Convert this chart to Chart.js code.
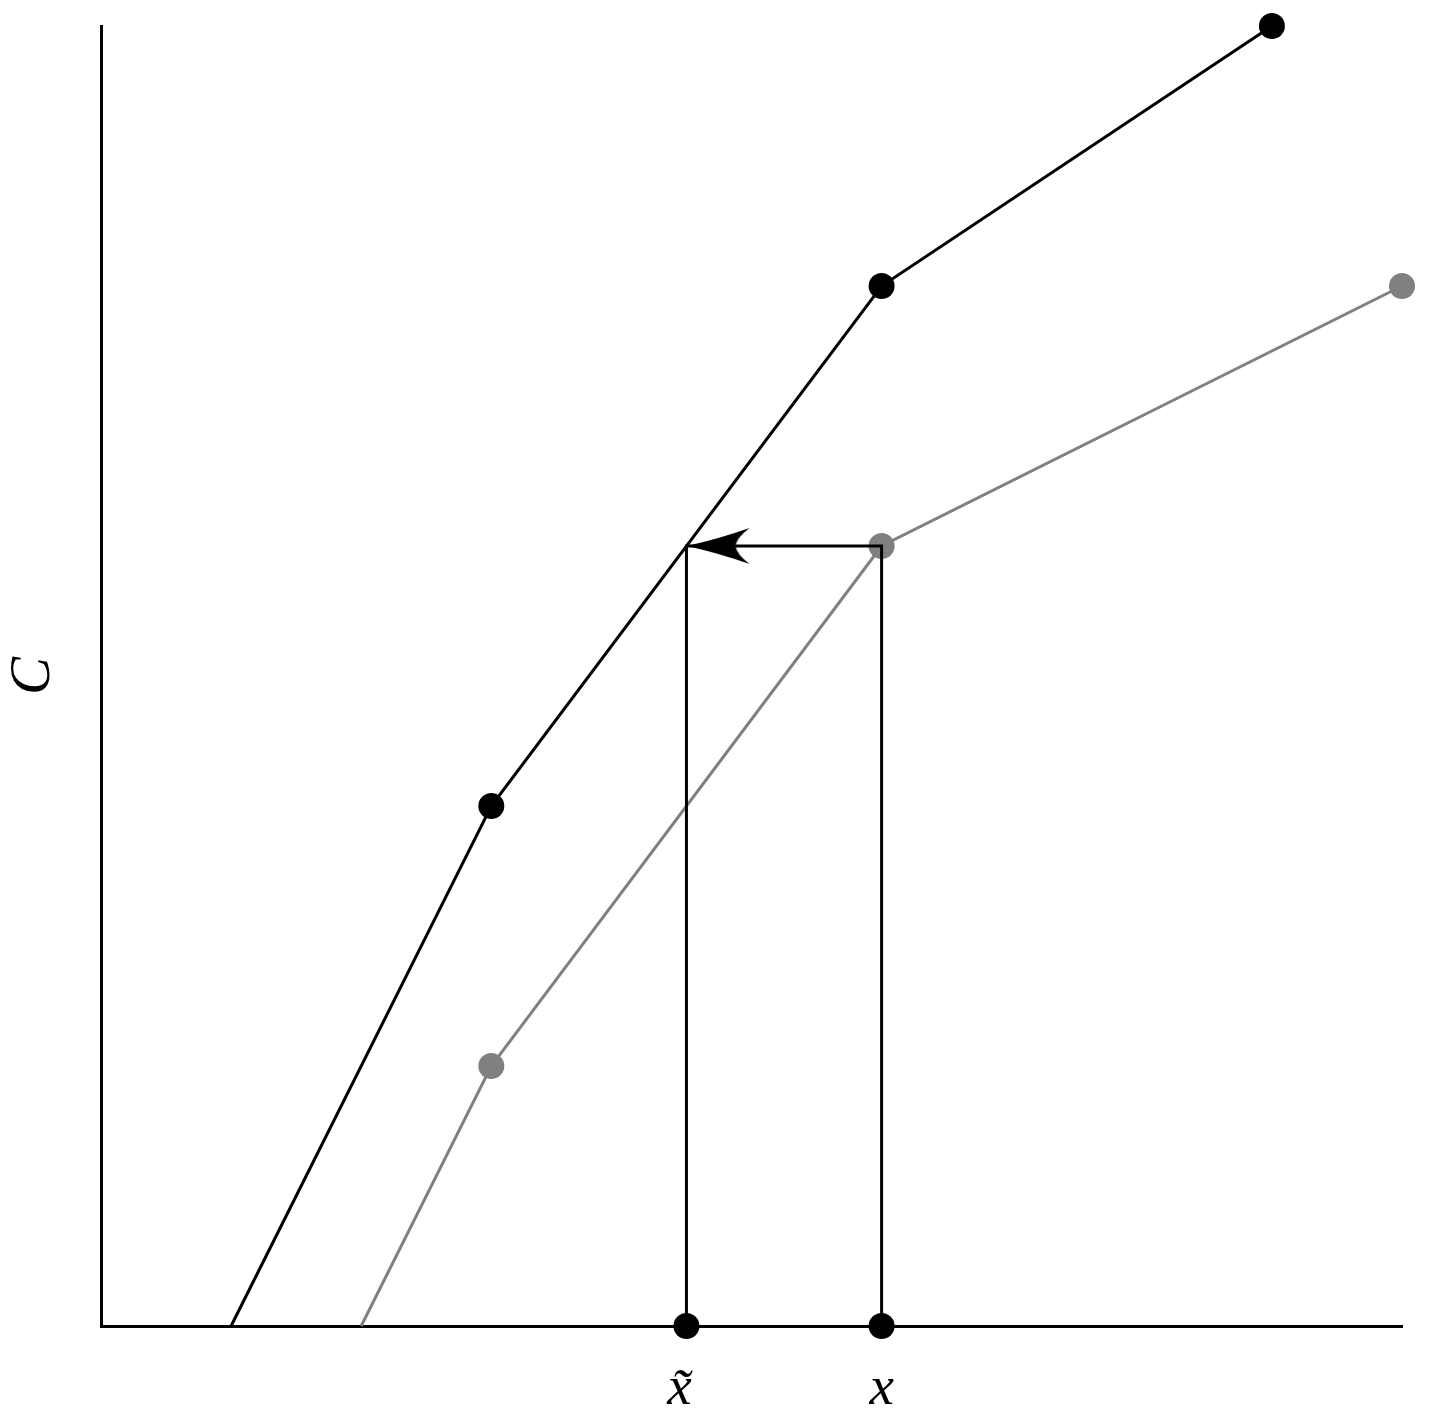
<!DOCTYPE html>
<html>
<head>
<meta charset="utf-8">
<script src="https://cdn.jsdelivr.net/npm/chart.js@4/dist/chart.umd.min.js"></script>
<style>
html,body{margin:0;padding:0;background:#fff;}
#wrap{width:1430px;height:1417px;}
</style>
</head>
<body>
<div id="wrap"><canvas id="c" width="1430" height="1417"></canvas></div>
<script>
// Data
const upperX = [1, 3, 6, 9];
const upperY = [0, 4, 8, 10];
const lowerX = [2, 3, 6, 10];
const lowerY = [0, 2, 6, 8];
const xTildeValue = 4.5;
const xValue = 6;
const levelC = 6;
const tickValues = [xTildeValue, xValue];
const tickLabels = ['x\u0303 ', 'x'];
const yTitle = 'C';

const pts = (xs, ys) => xs.map((x, i) => ({x: x, y: ys[i]}));

// arrowhead image (tip at centre, pointing left)
function makeArrow() {
  const w = 136, h = 44;
  const cv = document.createElement('canvas');
  cv.width = w; cv.height = h;
  const g = cv.getContext('2d');
  const tx = w / 2, ty = h / 2;
  g.fillStyle = '#000';
  g.beginPath();
  g.moveTo(tx, ty);
  g.quadraticCurveTo(tx + 32, ty - 7, tx + 63, ty - 18);
  g.quadraticCurveTo(tx + 50, ty - 8, tx + 49, ty);
  g.quadraticCurveTo(tx + 50, ty + 8, tx + 63, ty + 18);
  g.quadraticCurveTo(tx + 32, ty + 7, tx, ty);
  g.closePath();
  g.fill();
  return cv;
}
const arrowImg = makeArrow();

const guidePath = [
  {x: xTildeValue, y: 0}, {x: xTildeValue, y: levelC},
  {x: xValue, y: levelC}, {x: xValue, y: 0}
];

new Chart(document.getElementById('c'), {
  type: 'scatter',
  data: {
    datasets: [
      { // axis dots
        data: tickValues.map(v => ({x: v, y: 0})),
        showLine: false,
        pointRadius: 13,
        pointBackgroundColor: '#000',
        pointBorderWidth: 0,
        clip: false,
        order: 0
      },
      { // arrowhead
        data: [{x: xTildeValue, y: levelC}],
        showLine: false,
        pointStyle: arrowImg,
        pointRadius: 5,
        clip: false,
        order: 1
      },
      { // guide lines
        data: guidePath,
        showLine: true,
        borderColor: '#000',
        borderWidth: 3,
        pointRadius: 0,
        fill: false,
        clip: false,
        order: 2
      },
      { // upper curve
        data: pts(upperX, upperY),
        showLine: true,
        borderColor: '#000',
        borderWidth: 3,
        pointRadius: [0, 13, 13, 13],
        pointBackgroundColor: '#000',
        pointBorderWidth: 0,
        clip: false,
        order: 3
      },
      { // lower curve
        data: pts(lowerX, lowerY),
        showLine: true,
        borderColor: '#808080',
        borderWidth: 3,
        pointRadius: [0, 13, 13, 13],
        pointBackgroundColor: '#808080',
        pointBorderWidth: 0,
        clip: false,
        order: 4
      }
    ]
  },
  options: {
    responsive: false,
    animation: false,
    events: [],
    layout: {padding: {left: 0, right: 28, top: 26, bottom: 0}},
    plugins: {legend: {display: false}, tooltip: {enabled: false}},
    elements: {line: {tension: 0}},
    scales: {
      x: {
        type: 'linear',
        min: 0, max: 10,
        grid: {display: false, drawTicks: false, tickLength: 0},
        border: {display: true, color: '#000', width: 3},
        afterBuildTicks: s => { s.ticks = tickValues.map(v => ({value: v})); },
        afterFit: s => { s.height = 91; },
        ticks: {
          autoSkip: false,
          maxRotation: 0,
          padding: 31,
          color: '#000',
          font: {family: '"Liberation Serif", "DejaVu Serif", serif', style: 'italic', size: 55},
          callback: (v) => tickLabels[tickValues.indexOf(v)]
        }
      },
      y: {
        type: 'linear',
        min: 0, max: 10,
        grid: {display: false, drawTicks: false, tickLength: 0},
        border: {display: true, color: '#000', width: 3},
        ticks: {display: false},
        afterFit: s => { s.width = 101; },
        title: {
          display: true,
          text: yTitle,
          color: '#000',
          padding: {top: 0, bottom: 0},
          font: {family: '"Liberation Serif", "DejaVu Serif", serif', style: 'italic', size: 57}
        }
      }
    }
  }
});
</script>
</body>
</html>
